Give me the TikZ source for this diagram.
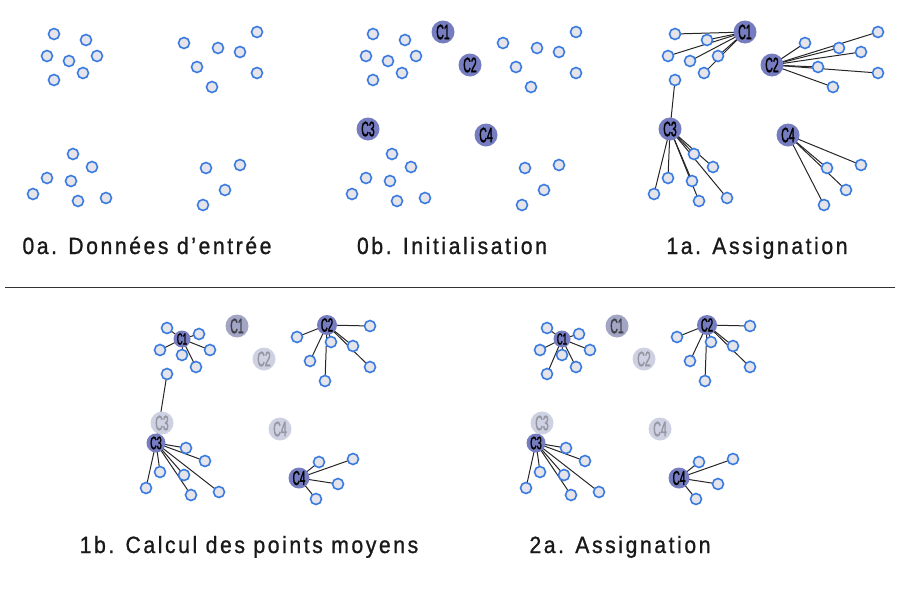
\documentclass[tikz,border=0pt]{standalone}
\usepackage{fontspec}
\setmainfont{Liberation Sans}[FakeStretch=0.9,LetterSpace=11,FakeBold=1.0]
\newfontfamily\cfont{Liberation Sans}[FakeStretch=0.5,FakeBold=1.5]
\usetikzlibrary{backgrounds}
\definecolor{ptblue}{RGB}{58,123,224}
\definecolor{ptfill}{RGB}{228,228,234}
\definecolor{centfill}{RGB}{118,124,192}
\definecolor{fadeAfill}{RGB}{162,165,196}
\definecolor{fadeAtext}{RGB}{65,65,75}
\definecolor{fadeBfill}{RGB}{206,209,226}
\definecolor{fadeBtext}{RGB}{150,150,162}
\tikzset{
  pt/.style={circle,draw=ptblue,line width=1.6pt,fill=ptfill,minimum size=11pt,inner sep=0pt},
  cent/.style={circle,fill=centfill,inner sep=0pt,minimum size=23pt,text=black,
    font=\cfont\fontsize{21}{21}\selectfont},
  fadeA/.style={cent,fill=fadeAfill,text=fadeAtext},
  fadeB/.style={cent,fill=fadeBfill,text=fadeBtext},
  link/.style={draw=black!85,line width=1pt},
  caption/.style={anchor=base,inner sep=0pt,text=black!90,font=\fontsize{23.5}{26}\selectfont},
}
\newcommand\kmpoints{%
  \node[pt] (a1) at (54,34) {};
  \node[pt] (a2) at (86,40) {};
  \node[pt] (a3) at (47,56) {};
  \node[pt] (a4) at (69,61) {};
  \node[pt] (a5) at (97,56) {};
  \node[pt] (a6) at (83,73) {};
  \node[pt] (a7) at (54,80) {};
  \node[pt] (b1) at (184,43) {};
  \node[pt] (b2) at (218,48) {};
  \node[pt] (b3) at (240,52) {};
  \node[pt] (b4) at (257,32) {};
  \node[pt] (b5) at (197,67) {};
  \node[pt] (b6) at (257,73) {};
  \node[pt] (b7) at (212,87) {};
  \node[pt] (c1) at (73,154) {};
  \node[pt] (c2) at (92,167) {};
  \node[pt] (c3) at (47,178) {};
  \node[pt] (c4) at (71,181) {};
  \node[pt] (c5) at (33,194) {};
  \node[pt] (c6) at (78,201) {};
  \node[pt] (c7) at (106,198) {};
  \node[pt] (d1) at (206,168) {};
  \node[pt] (d2) at (240,165) {};
  \node[pt] (d3) at (225,190) {};
  \node[pt] (d4) at (203,205) {};
}
\newcommand\kminit[1]{%
  \node[#1] (k1) at (124,32) {C1};
  \node[#1] (k2) at (151,65) {C2};
  \node[#1] (k3) at (49,129) {C3};
  \node[#1] (k4) at (167,135) {C4};
}
\newcommand\kmnew{%
  \node[cent,minimum size=17pt,font=\cfont\fontsize{16}{16}\selectfont] (m1) at (69,45) {C1};
  \node[cent,minimum size=20pt,font=\cfont\fontsize{19}{19}\selectfont] (m2) at (214,31) {C2};
  \node[cent,minimum size=19pt,font=\cfont\fontsize{18}{18}\selectfont] (m3) at (43,149) {C3};
  \node[cent,minimum size=21pt,font=\cfont\fontsize{20}{20}\selectfont] (m4) at (186,184) {C4};
}
\begin{document}
\begin{tikzpicture}[x=1pt,y=-1pt]
\useasboundingbox (0,0) rectangle (900,600);
% 0a
\begin{scope}[name prefix=pa-]
  \kmpoints
\end{scope}
% 0b
\begin{scope}[shift={(319,0)},name prefix=pb-]
  \kmpoints
  \kminit{cent}
\end{scope}
% 1a
\begin{scope}[shift={(621,0)},name prefix=pc-]
  \kmpoints
  \kminit{cent}
  \begin{pgfonlayer}{background}
    \foreach \i in {1,...,6} \draw[link] (k1.center) -- (a\i.center);
    \draw[link] (k3.center) -- (a7.center);
    \foreach \i in {1,...,7} \draw[link] (k2.center) -- (b\i.center);
    \foreach \i in {1,...,7} \draw[link] (k3.center) -- (c\i.center);
    \foreach \i in {1,...,4} \draw[link] (k4.center) -- (d\i.center);
  \end{pgfonlayer}
\end{scope}
% 1b
\begin{scope}[shift={(113,294)},name prefix=pd-]
  \kmpoints
  \node[fadeA] (k1) at (124,32) {C1};
  \node[fadeB] (k2) at (151,65) {C2};
  \node[fadeB] (k3) at (49,129) {C3};
  \node[fadeB] (k4) at (167,135) {C4};
  \kmnew
  \begin{pgfonlayer}{background}
    \foreach \i in {1,...,6} \draw[link] (m1.center) -- (a\i.center);
    \draw[link] (m3.center) -- (a7.center);
    \foreach \i in {1,...,7} \draw[link] (m2.center) -- (b\i.center);
    \foreach \i in {1,...,7} \draw[link] (m3.center) -- (c\i.center);
    \foreach \i in {1,...,4} \draw[link] (m4.center) -- (d\i.center);
  \end{pgfonlayer}
\end{scope}
% 2a
\begin{scope}[shift={(493,294)},name prefix=pe-]
  \kmpoints
  \node[fadeA] (k1) at (124,32) {C1};
  \node[fadeB] (k2) at (151,65) {C2};
  \node[fadeB] (k3) at (49,129) {C3};
  \node[fadeB] (k4) at (167,135) {C4};
  \kmnew
  \begin{pgfonlayer}{background}
    \foreach \i in {1,...,7} \draw[link] (m1.center) -- (a\i.center);
    \foreach \i in {1,...,7} \draw[link] (m2.center) -- (b\i.center);
    \foreach \i in {1,...,7} \draw[link] (m3.center) -- (c\i.center);
    \foreach \i in {1,...,4} \draw[link] (m4.center) -- (d\i.center);
  \end{pgfonlayer}
\end{scope}
% separator
\coordinate (sepL) at (5,287);
\coordinate (sepR) at (895,287);
\draw[black!80,line width=1pt] (sepL) -- (sepR);
% captions
\node[caption] (t0a) at (147,254) {0a. Données d’entrée};
\node[caption] (t0b) at (452,254) {0b. Initialisation};
\node[caption] (t1a) at (757,254) {1a. Assignation};
\node[caption] (t1b) at (249,553) {1b. Calcul des points moyens};
\node[caption] (t2a) at (620,553) {2a. Assignation};
\end{tikzpicture}
\end{document}
